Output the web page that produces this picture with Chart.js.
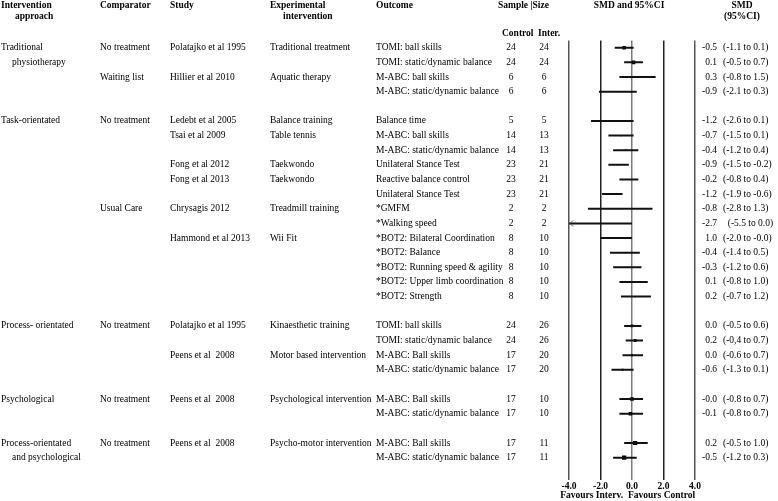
<!DOCTYPE html>
<html><head><meta charset="utf-8">
<script src="https://cdn.jsdelivr.net/npm/chart.js@4/dist/chart.umd.min.js"></script>
<style>html,body{margin:0;padding:0;background:#fff;}canvas{display:block;}</style>
</head><body>
<canvas id="c" width="778" height="501" style="width:778px;height:501px"></canvas>
<script>
// ---- data (one entry per outcome row) ----
const section = [0,0,0,0, 1,1,1,1,1,1,1,1,1,1,1,1,1, 2,2,2,2, 3,3, 4,4];
const approach = ['Traditional','physiotherapy','','',
  'Task-orientated','','','','','','','','','','','','',
  'Process- orientated','','','',
  'Psychological','',
  'Process-orientated','and psychological'];
const comparator = ['No treatment','','Waiting list','',
  'No treatment','','','','','','Usual Care','','','','','','',
  'No treatment','','','',
  'No treatment','',
  'No treatment',''];
const study = ['Polatajko et al 1995','','Hillier et al 2010','',
  'Ledebt et al 2005','Tsai et al 2009','','Fong et al 2012','Fong et al 2013','','Chrysagis 2012','','Hammond et al 2013','','','','',
  'Polatajko et al 1995','','Peens et al  2008','',
  'Peens et al  2008','',
  'Peens et al  2008',''];
const intervention = ['Traditional treatment','','Aquatic therapy','',
  'Balance training','Table tennis','','Taekwondo','Taekwondo','','Treadmill training','','Wii Fit','','','','',
  'Kinaesthetic training','','Motor based intervention','',
  'Psychological intervention','',
  'Psycho-motor intervention',''];
const outcomes = ['TOMI: ball skills','TOMI: static/dynamic balance','M-ABC: ball skills','M-ABC: static/dynamic balance',
  'Balance time','M-ABC: ball skills','M-ABC: static/dynamic balance','Unilateral Stance Test','Reactive balance control',
  'Unilateral Stance Test','*GMFM','*Walking speed','*BOT2: Bilateral Coordination','*BOT2: Balance',
  '*BOT2: Running speed & agility','*BOT2: Upper limb coordination','*BOT2: Strength',
  'TOMI: ball skills','TOMI: static/dynamic balance','M-ABC: Ball skills','M-ABC: static/dynamic balance',
  'M-ABC: Ball skills','M-ABC: static/dynamic balance',
  'M-ABC: Ball skills','M-ABC: static/dynamic balance'];
const nControl = [24,24,6,6,5,14,14,23,23,23,2,2,8,8,8,8,8,24,24,17,17,17,17,17,17];
const nInter   = [24,24,6,6,5,13,13,21,21,21,2,2,10,10,10,10,10,26,26,20,20,10,10,11,11];
const smd    = [-0.5,0.1,0.3,-0.9,-1.2,-0.7,-0.4,-0.9,-0.2,-1.2,-0.8,-2.7,-1.0,-0.4,-0.3,0.1,0.2,0.0,0.2,0.0,-0.6,-0.0,-0.1,0.2,-0.5];
const ciLow  = [-1.1,-0.5,-0.8,-2.1,-2.6,-1.5,-1.2,-1.5,-0.8,-1.9,-2.8,-5.5,-2.0,-1.4,-1.2,-0.8,-0.7,-0.5,-0.4,-0.6,-1.3,-0.8,-0.8,-0.5,-1.2];
const ciHigh = [0.1,0.7,1.5,0.3,0.1,0.1,0.4,-0.2,0.4,-0.6,1.3,0.0,0.0,0.5,0.6,1.0,1.2,0.6,0.7,0.7,0.1,0.7,0.7,1.0,0.3];
const weight = [2.5,2.5,1.2,0.8,0.5,0.8,1.2,0.8,0.8,1,0.3,0.3,0.8,0.8,0.8,0.8,0.8,2,2,1.5,1.5,2.5,2.5,3,3];
const smdLabel = ['-0.5','0.1','0.3','-0.9','-1.2','-0.7','-0.4','-0.9','-0.2','-1.2','-0.8','-2.7','1.0','-0.4','-0.3','0.1','0.2','0.0','0.2','0.0','-0.6','-0.0','-0.1','0.2','-0.5'];
const ciLabel = ['(-1.1 to 0.1)','(-0.5 to 0.7)','(-0.8 to 1.5)','(-2.1 to 0.3)','(-2.6 to 0.1)','(-1.5 to 0.1)','(-1.2 to 0.4)',
  '(-1.5 to -0.2)','(-0.8 to 0.4)','(-1.9 to -0.6)','(-2.8 to 1.3)','  (-5.5 to 0.0)','(-2.0 to -0.0)','(-1.4 to 0.5)',
  '(-1.2 to 0.6)','(-0.8 to 1.0)','(-0.7 to 1.2)','(-0.5 to 0.6)','(-0,4 to 0.7)','(-0.6 to 0.7)','(-1.3 to 0.1)',
  '(-0.8 to 0.7)','(-0.8 to 0.7)','(-0.5 to 1.0)','(-1.2 to 0.3)'];
const xTicks = [-4, -2, 0, 2, 4];
const favours = ['Favours Interv.', 'Favours Control'];

// ---- derived ----
const slot = section.map((s, i) => i + s);   // one blank row between sections
const nSlots = slot[slot.length - 1] + 2;     // plus trailing blank row

const FAM = '"Liberation Serif","Times New Roman",serif';
const F = '9.5px ' + FAM, FB = 'bold 9.5px ' + FAM;

const ciSets = smd.map((v, i) => ({
  data: [{x: ciLow[i], y: slot[i]}, {x: ciHigh[i], y: slot[i]}],
  showLine: true, borderColor: '#111', borderWidth: 2, pointRadius: 0, fill: false
}));
const pointSet = {
  data: smd.map((v, i) => ({x: v, y: slot[i]})),
  pointStyle: 'rect', pointRadius: weight, backgroundColor: '#000', borderWidth: 0
};

const tablePlugin = {
  id: 'table',
  afterDraw(chart) {
    const ctx = chart.ctx, ys = chart.scales.y, xs = chart.scales.x;
    ctx.save();
    ctx.fillStyle = '#000';
    ctx.textBaseline = 'middle';
    const t = (s, x, y, align, font) => { ctx.font = font || F; ctx.textAlign = align || 'left'; ctx.fillText(s, x, y); };
    // headers
    t('Intervention', 1, 6, 'left', FB); t('approach', 15, 17, 'left', FB);
    t('Comparator', 100, 6, 'left', FB);
    t('Study', 170, 6, 'left', FB);
    t('Experimental', 270, 6, 'left', FB); t('intervention', 283, 17, 'left', FB);
    t('Outcome', 376, 6, 'left', FB);
    t('Sample |Size', 498, 6, 'left', FB);
    t('Control', 502, 34, 'left', FB); t('Inter.', 538, 34, 'left', FB);
    t('SMD and 95%CI', 629, 6, 'center', FB);
    t('SMD', 742, 6, 'center', FB); t('(95%CI)', 742, 17, 'center', FB);
    // axis caption under the ticks
    const xc = xs.getPixelForValue(0);
    t(favours[0], xc - 9, 496, 'right', FB);
    t(favours[1], xc - 4, 496, 'left', FB);
    // rows
    smd.forEach((v, i) => {
      const y = ys.getPixelForValue(slot[i]);
      if (approach[i]) t(approach[i], (i > 0 && approach[i - 1]) ? 12 : 1, y);
      if (comparator[i]) t(comparator[i], 100, y);
      if (study[i]) t(study[i], 170, y);
      if (intervention[i]) t(intervention[i], 270, y);
      t(outcomes[i], 376, y);
      t(String(nControl[i]), 511, y, 'center');
      t(String(nInter[i]), 544, y, 'center');
      t(smdLabel[i], 717, y, 'right');
      t(ciLabel[i], 723, y, 'left');
      // arrow for truncated intervals
      if (ciLow[i] < xs.min) {
        const x0 = xs.getPixelForValue(xs.min);
        ctx.strokeStyle = '#555'; ctx.lineWidth = 1;
        ctx.beginPath(); ctx.moveTo(x0 + 4, y - 3); ctx.lineTo(x0 + 1, y); ctx.lineTo(x0 + 4, y + 3); ctx.stroke();
      }
    });
    ctx.restore();
  }
};

new Chart(document.getElementById('c'), {
  type: 'scatter',
  data: {datasets: [...ciSets, pointSet]},
  options: {
    responsive: false, animation: false, devicePixelRatio: 1,
    layout: {padding: {left: 569, right: 83, top: 40.4, bottom: 0.4}},
    plugins: {legend: {display: false}, tooltip: {enabled: false}},
    scales: {
      x: {
        type: 'linear', min: xTicks[0], max: xTicks[xTicks.length - 1],
        afterBuildTicks: (s) => { s.ticks = xTicks.map(v => ({value: v})); },
        afterFit: (s) => { s.height = 21; },
        border: {display: false},
        grid: {
          drawTicks: false, lineWidth: 1.5,
          color: (c) => c.tick && c.tick.value === 0 ? '#7a7a7a' : (c.tick && Math.abs(c.tick.value) === 4 ? '#555' : '#222')
        },
        ticks: {padding: 1, color: '#000', font: {family: FAM, size: 9.5, weight: 'bold'}, callback: (v) => Number(v).toFixed(1), maxRotation: 0, autoSkip: false},
        title: {display: false}
      },
      y: {type: 'linear', reverse: true, min: -0.5, max: nSlots - 0.5, display: false}
    }
  },
  plugins: [tablePlugin]
});
</script>
</body></html>
